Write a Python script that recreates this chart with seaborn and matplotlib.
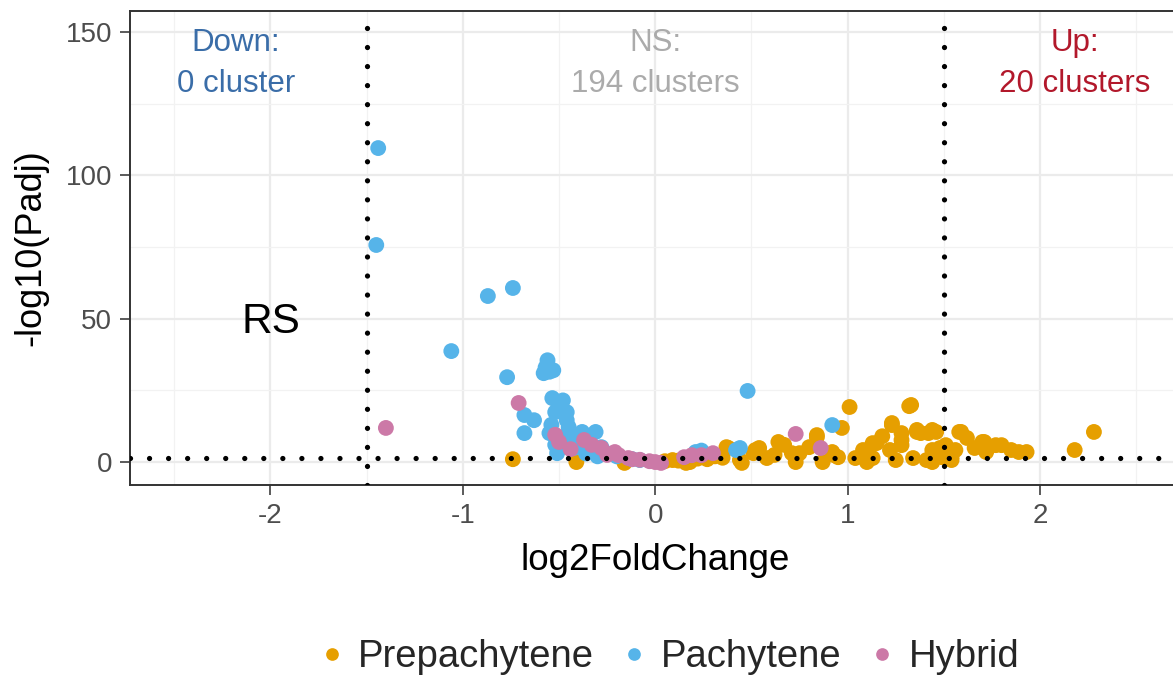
import matplotlib
matplotlib.use("Agg")
import matplotlib.pyplot as plt
import seaborn as sns
import pandas as pd

# ---- data ----
prepachytene_x = [-0.74, -0.41, -0.16, 0.05, 0.09, 0.12, 0.16, 0.18, 0.22, 0.27, 0.31, 0.35, 0.37, 0.38,
                  0.44, 0.45, 0.51, 0.52, 0.54, 0.58, 0.62, 0.64, 0.67, 0.71, 0.73, 0.75, 0.80, 0.84,
                  0.84, 0.87, 0.92, 0.93, 0.95, 0.97, 1.01, 1.04, 1.08, 1.09, 1.10, 1.13, 1.13, 1.15,
                  1.18, 1.22, 1.23, 1.23, 1.25, 1.28, 1.28, 1.28, 1.32, 1.33, 1.34, 1.36, 1.36, 1.38,
                  1.41, 1.42, 1.44, 1.44, 1.44, 1.46, 1.48, 1.49, 1.51, 1.54, 1.54, 1.56, 1.58, 1.59,
                  1.62, 1.66, 1.70, 1.71, 1.72, 1.77, 1.80, 1.85, 1.89, 1.93, 2.18, 2.28]
prepachytene_y = [1.0, 0.0, -0.3, 0.3, 0.7, 0.5, -0.3, 0.0, 1.2, 1.0, 2.0, 1.5, 5.2, 4.9,
                  0.7, -0.3, 3.1, 4.2, 4.9, 1.4, 2.5, 7.0, 6.0, 3.1, 0.0, 3.1, 5.2, 8.7,
                  9.4, 0.0, 3.5, 2.4, 1.7, 11.9, 19.2, 1.4, 4.2, 3.5, 0.0, 6.6, 1.4, 6.6,
                  9.0, 4.2, 12.9, 13.6, 0.7, 10.1, 5.9, 7.7, 19.5, 19.9, 1.4, 11.2, 10.5, 10.1,
                  0.7, 10.1, 4.2, 11.2, 0.0, 10.5, 4.9, 1.7, 5.9, 1.7, 0.7, 4.2, 10.5, 10.5,
                  8.4, 4.9, 7.0, 7.0, 3.5, 5.9, 5.9, 4.2, 3.5, 3.5, 4.2, 10.5]

pachytene_x = [-1.44, -1.45, -0.74, -0.87, -1.06, -0.77, -0.56, -0.57, -0.55, -0.58, -0.53,
               -0.535, -0.49, -0.46, -0.52, -0.46, -0.55, -0.68, -0.63, -0.68, -0.38, -0.31,
               -0.43, -0.51, -0.33, -0.08, -0.45, -0.46, -0.35, -0.28, -0.50, -0.48, -0.54,
               -0.40, -0.25, -0.20, -0.12, 0.21, 0.24, 0.42, 0.44, 0.48, 0.92,
               -0.47, -0.42, -0.36, -0.30, -0.52]
pachytene_y = [109.5, 75.7, 60.7, 57.9, 38.7, 29.6, 35.5, 33.0, 31.5, 31.0, 32.0,
               22.3, 20.6, 17.4, 17.4, 14.6, 10.1, 16.4, 14.6, 10.1, 10.5, 10.5,
               8.7, 3.1, 3.5, 0.7, 12.2, 7.7, 5.9, 5.2, 19.0, 21.5, 13.0,
               6.5, 3.0, 2.0, 1.0, 3.5, 4.0, 4.2, 4.9, 24.8, 12.9,
               9.0, 5.0, 3.0, 2.0, 6.0]

hybrid_x = [-1.40, -0.71, -0.50, -0.37, -0.28, -0.21, -0.19, -0.14, -0.08, -0.03, 0.00, 0.03,
            0.15, 0.19, 0.24, 0.30, 0.73, 0.86, -0.52, -0.44, -0.33, -0.25, -0.12]
hybrid_y = [11.9, 20.6, 7.0, 7.7, 4.9, 3.5, 2.4, 1.4, 0.8, 0.3, 0.0, -0.3,
            1.7, 2.4, 2.4, 3.1, 9.8, 4.9, 9.5, 4.5, 6.0, 2.5, 1.0]

group_names = ["Prepachytene", "Pachytene", "Hybrid"]
group_colors = ["#E69F00", "#56B4E9", "#CC79A7"]

x_ticks = [-2, -1, 0, 1, 2]
y_ticks = [0, 50, 100, 150]
fc_cut = 1.5
p_cut = 1.30103

ann_labels = ["Down:\n0 cluster", "NS:\n194 clusters", "Up:\n20 clusters"]
ann_x = [-2.18, 0.0, 2.18]
ann_colors = ["#3A6DA8", "#ABABAB", "#B2182B"]

df = pd.DataFrame({
    "log2FoldChange": prepachytene_x + pachytene_x + hybrid_x,
    "padj": prepachytene_y + pachytene_y + hybrid_y,
    "group": ["Prepachytene"] * len(prepachytene_x) + ["Pachytene"] * len(pachytene_x)
             + ["Hybrid"] * len(hybrid_x),
})

sns.set_theme(style="whitegrid")
plt.rcParams["font.family"] = ["Liberation Sans", "DejaVu Sans"]
plt.rcParams["axes.unicode_minus"] = False
plt.rcParams["lines.scale_dashes"] = False

fig = plt.figure(figsize=(11.73, 6.79), dpi=100)
ax = fig.add_axes([130 / 1173, 1 - 485 / 679, (1180.5 - 130) / 1173, (485 - 11) / 679])

sns.scatterplot(data=df, x="log2FoldChange", y="padj", hue="group", hue_order=group_names,
                palette=group_colors, s=130, linewidth=0, alpha=1.0, ax=ax, zorder=3,
                legend=True)

dot_style = dict(color="black", lw=3.8, linestyle=(0, (0.01, 13.7)), dash_capstyle="round", zorder=4)
for xv in (-fc_cut, fc_cut):
    ax.axvline(xv, **dot_style)
ax.axhline(p_cut, **dot_style)

for lab, xv, c in zip(ann_labels, ann_x, ann_colors):
    ax.text(xv, 139.0, lab, color=c, fontsize=22.5, ha="center", va="center", linespacing=1.45, zorder=5)
ax.text(-2.0, 49.0, "RS", color="black", fontsize=30.5, ha="center", va="center", zorder=5)

ax.set_xlim(-2.73, 2.73)
ax.set_ylim(-8.0, 157.3)
ax.set_xticks(x_ticks)
ax.set_yticks(y_ticks)
ax.set_xticks([-2.5, -1.5, -0.5, 0.5, 1.5, 2.5], minor=True)
ax.set_yticks([25, 75, 125], minor=True)
ax.grid(which="major", color="#EBEBEB", lw=1.6)
ax.grid(which="minor", color="#F2F2F2", lw=0.9)
ax.set_axisbelow(True)
for sp in ax.spines.values():
    sp.set_color("#333333")
    sp.set_linewidth(1.4)
ax.tick_params(axis="both", which="major", labelsize=20, colors="#4D4D4D", length=7, width=1.3,
               direction="out", bottom=True, left=True, pad=6)
ax.tick_params(axis="both", which="minor", length=0)
ax.set_xlabel("log2FoldChange", fontsize=26.5, color="black", labelpad=10)
ax.set_ylabel("-log10(Padj)", fontsize=26, color="black", labelpad=12)

handles, labels = ax.get_legend_handles_labels()
ax.legend_.remove()
fig.legend(handles, labels, loc="center", bbox_to_anchor=(664 / 1173, 1 - 657 / 679), ncol=3,
           frameon=False, fontsize=27.5, handletextpad=0.1, columnspacing=0.45, markerscale=0.8,
           handlelength=1.2)

fig.savefig("out.png", dpi=100)
